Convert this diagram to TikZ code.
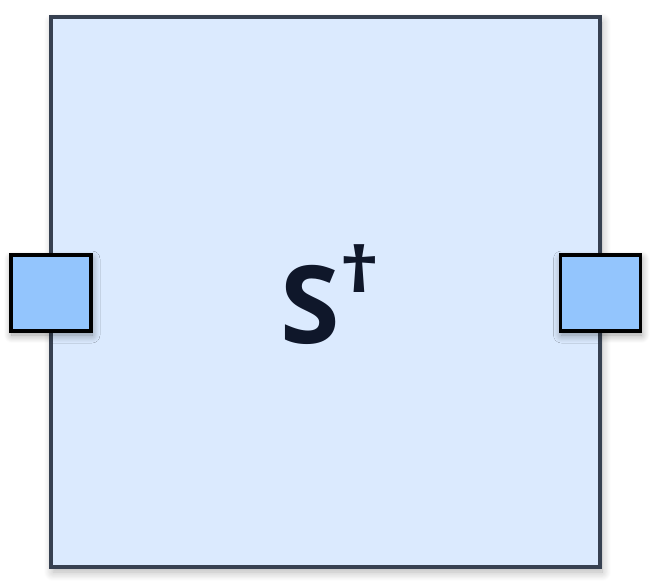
\documentclass[tikz,border=0pt]{standalone}
\usepackage{fontspec}
\setmainfont{Open Sans}
\usetikzlibrary{positioning, shadows.blur}
\definecolor{blkfill}{HTML}{DBEAFE}
\definecolor{blkline}{HTML}{374151}
\definecolor{pinfill}{HTML}{93C5FD}
\definecolor{ink}{HTML}{0F172A}

\begin{document}
\begin{tikzpicture}[x=1pt, y=-1pt,
    blk/.style={draw=blkline, fill=blkfill, line width=3.5pt, minimum width=549pt, minimum height=550pt,
                blur shadow={shadow xshift=2pt, shadow yshift=-5pt, shadow blur radius=9pt, shadow blur steps=12, shadow opacity=30}},
    pin/.style={draw=black, fill=pinfill, line width=3.5pt, minimum width=80pt, minimum height=76pt,
                blur shadow={shadow xshift=1pt, shadow yshift=-4pt, shadow blur radius=8pt, shadow blur steps=10, shadow opacity=40}}]
    \useasboundingbox (0,0) rectangle (657,581);
    \node[blk] (gate) at (325.5,292) {};
    \node[pin] (pinL) at (51,293) {};
    \node[pin] (pinR) at (600.5,293) {};
    \node[anchor=base west, text=ink, font=\bfseries\fontsize{108}{108}\selectfont, inner sep=0pt] (lbl) at (280,343)
      {S\kern0pt\raisebox{51pt}{\fontsize{63}{63}\selectfont \scalebox{1.25}[1]{†}}};
\end{tikzpicture}
\end{document}
